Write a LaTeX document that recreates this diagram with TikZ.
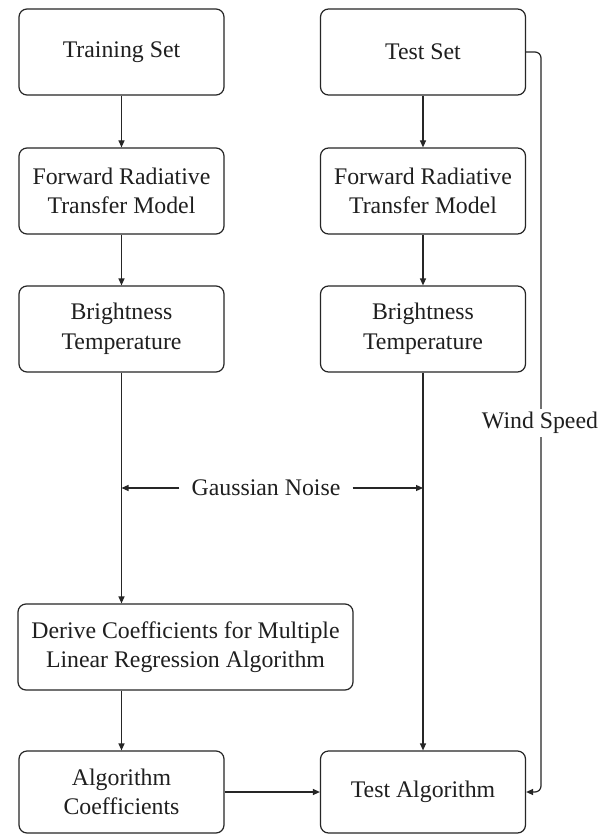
\documentclass[tikz,border=0pt]{standalone}
\usepackage{fontspec}
\setmainfont{Liberation Serif}
\newfontfamily\refserif{Liberation Serif}
\usetikzlibrary{arrows.meta}
\begin{document}
\begin{tikzpicture}[x=1pt,y=-1pt,
  every node/.style={font=\refserif\fontsize{23.8}{29.5}\selectfont, text=black!88},
  box/.style={draw=black!85, line width=1.2pt, rounded corners=8pt, align=center,
    minimum width=205pt, minimum height=86pt, inner sep=0pt},
  conn/.style={draw=black!85, line width=1.2pt, -{Triangle[length=7pt,width=6pt]}}]
\useasboundingbox (0,0) rectangle (611,834);
\fill[white] (0,0) rectangle (611,834);
\node[box] (train) at (121.5,52) {Training Set};
\node[box] (test) at (423,52) {Test Set};
\node[box] (fwd1) at (121.5,191) {Forward Radiative\\Transfer Model};
\node[box] (fwd2) at (423,191) {Forward Radiative\\Transfer Model};
\node[box] (bt1) at (121.5,329) {Brightness\\Temperature};
\node[box] (bt2) at (423,329) {Brightness\\Temperature};
\node[box, minimum width=335pt] (derive) at (185.5,647) {Derive Coefficients for Multiple\\Linear Regression Algorithm};
\node[box, minimum height=82pt] (algo) at (121.5,792) {Algorithm\\Coefficients};
\node[box, minimum height=82pt] (testalg) at (423,792) {Test Algorithm};
\coordinate (wtop) at (541,52);
\coordinate (wbot) at (541,792);
\draw[conn] (train) -- (fwd1);
\draw[conn] (test) -- (fwd2);
\draw[conn] (fwd1) -- (bt1);
\draw[conn] (fwd2) -- (bt2);
\draw[conn] (bt1.south) -- (bt1.south |- derive.north);
\draw[conn] (derive.south -| algo.north) -- (algo.north);
\draw[conn] (bt2) -- (testalg);
\draw[conn] (algo) -- (testalg);
\draw[conn, rounded corners=6pt] (test.east) -- (wtop) -- (wbot) -- (testalg.east);
\node[fill=white, inner xsep=1pt, inner ysep=3pt] (ws) at (540,423) {Wind Speed};
\node[inner xsep=12pt] (gn) at (266,488) {Gaussian Noise};
\draw[conn] (gn.west) -- (bt1.south |- gn.west);
\draw[conn] (gn.east) -- (bt2.south |- gn.east);
\end{tikzpicture}
\end{document}
